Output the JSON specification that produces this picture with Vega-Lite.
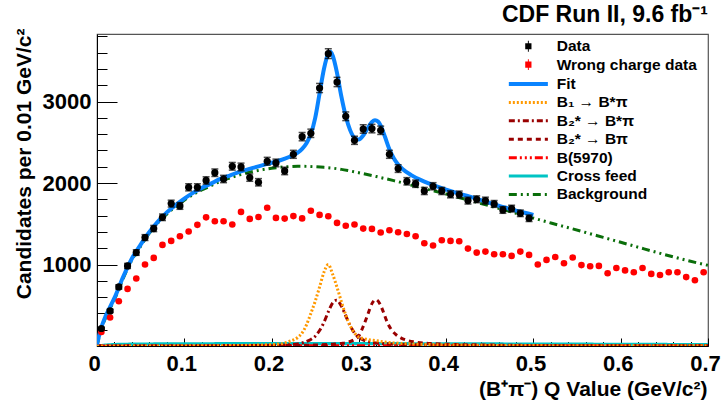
{
  "$schema": "https://vega.github.io/schema/vega-lite/v6.json",
  "width": 611,
  "height": 312,
  "autosize": {"type": "none"},
  "padding": {"left": 97, "top": 34, "right": 13, "bottom": 55},
  "background": "white",
  "config": {"view": {"stroke": "#555", "strokeWidth": 1.2}, "font": "Liberation Sans"},
  "title": {"text": "CDF Run II, 9.6 fb⁻¹", "anchor": "end", "frame": "group", "fontSize": 23, "font": "Liberation Sans", "fontWeight": "bold", "color": "black", "baseline": "alphabetic", "offset": -17},
  "datasets": {
    "pts": [
      {"s":"Data","q":0.005,"y":215,"e":15},{"s":"Data","q":0.015,"y":431,"e":21},{"s":"Data","q":0.025,"y":725,"e":27},{"s":"Data","q":0.035,"y":983,"e":31},{"s":"Data","q":0.045,"y":1147,"e":34},
      {"s":"Data","q":0.055,"y":1331,"e":36},{"s":"Data","q":0.065,"y":1442,"e":38},{"s":"Data","q":0.075,"y":1580,"e":40},{"s":"Data","q":0.085,"y":1748,"e":42},{"s":"Data","q":0.095,"y":1719,"e":41},
      {"s":"Data","q":0.105,"y":1948,"e":44},{"s":"Data","q":0.115,"y":1948,"e":44},{"s":"Data","q":0.125,"y":2032,"e":45},{"s":"Data","q":0.135,"y":2127,"e":46},{"s":"Data","q":0.145,"y":2050,"e":45},
      {"s":"Data","q":0.155,"y":2206,"e":47},{"s":"Data","q":0.165,"y":2198,"e":47},{"s":"Data","q":0.175,"y":2067,"e":45},{"s":"Data","q":0.185,"y":2010,"e":45},{"s":"Data","q":0.195,"y":2268,"e":48},
      {"s":"Data","q":0.205,"y":2247,"e":47},{"s":"Data","q":0.215,"y":2149,"e":46},{"s":"Data","q":0.225,"y":2353,"e":49},{"s":"Data","q":0.235,"y":2570,"e":51},{"s":"Data","q":0.245,"y":2611,"e":51},
      {"s":"Data","q":0.255,"y":3167,"e":56},{"s":"Data","q":0.265,"y":3589,"e":60},{"s":"Data","q":0.275,"y":3241,"e":57},{"s":"Data","q":0.285,"y":2820,"e":53},{"s":"Data","q":0.295,"y":2525,"e":50},
      {"s":"Data","q":0.305,"y":2664,"e":52},{"s":"Data","q":0.315,"y":2669,"e":52},{"s":"Data","q":0.325,"y":2648,"e":51},{"s":"Data","q":0.335,"y":2353,"e":49},{"s":"Data","q":0.345,"y":2178,"e":47},
      {"s":"Data","q":0.355,"y":2022,"e":45},{"s":"Data","q":0.365,"y":1992,"e":45},{"s":"Data","q":0.375,"y":1903,"e":44},{"s":"Data","q":0.385,"y":1961,"e":44},{"s":"Data","q":0.395,"y":1903,"e":44},
      {"s":"Data","q":0.405,"y":1862,"e":43},{"s":"Data","q":0.415,"y":1859,"e":43},{"s":"Data","q":0.425,"y":1785,"e":42},{"s":"Data","q":0.435,"y":1801,"e":42},{"s":"Data","q":0.445,"y":1785,"e":42},
      {"s":"Data","q":0.455,"y":1744,"e":42},{"s":"Data","q":0.465,"y":1670,"e":41},{"s":"Data","q":0.475,"y":1687,"e":41},{"s":"Data","q":0.485,"y":1629,"e":40},{"s":"Data","q":0.495,"y":1568,"e":40},
      {"s":"Wrong charge data","q":0.005,"y":173},{"s":"Wrong charge data","q":0.015,"y":350},{"s":"Wrong charge data","q":0.025,"y":550},{"s":"Wrong charge data","q":0.035,"y":701},{"s":"Wrong charge data","q":0.045,"y":828},
      {"s":"Wrong charge data","q":0.055,"y":1000},{"s":"Wrong charge data","q":0.065,"y":1081},{"s":"Wrong charge data","q":0.075,"y":1241},{"s":"Wrong charge data","q":0.085,"y":1290},{"s":"Wrong charge data","q":0.095,"y":1347},
      {"s":"Wrong charge data","q":0.105,"y":1405},{"s":"Wrong charge data","q":0.115,"y":1487},{"s":"Wrong charge data","q":0.125,"y":1579},{"s":"Wrong charge data","q":0.135,"y":1531},{"s":"Wrong charge data","q":0.145,"y":1531},
      {"s":"Wrong charge data","q":0.155,"y":1491},{"s":"Wrong charge data","q":0.165,"y":1646},{"s":"Wrong charge data","q":0.175,"y":1560},{"s":"Wrong charge data","q":0.185,"y":1584},{"s":"Wrong charge data","q":0.195,"y":1697},
      {"s":"Wrong charge data","q":0.205,"y":1572},{"s":"Wrong charge data","q":0.215,"y":1564},{"s":"Wrong charge data","q":0.225,"y":1595},{"s":"Wrong charge data","q":0.235,"y":1566},{"s":"Wrong charge data","q":0.245,"y":1660},
      {"s":"Wrong charge data","q":0.255,"y":1609},{"s":"Wrong charge data","q":0.265,"y":1593},{"s":"Wrong charge data","q":0.275,"y":1511},{"s":"Wrong charge data","q":0.285,"y":1476},{"s":"Wrong charge data","q":0.295,"y":1492},
      {"s":"Wrong charge data","q":0.305,"y":1441},{"s":"Wrong charge data","q":0.315,"y":1437},{"s":"Wrong charge data","q":0.325,"y":1393},{"s":"Wrong charge data","q":0.335,"y":1421},{"s":"Wrong charge data","q":0.345,"y":1396},
      {"s":"Wrong charge data","q":0.355,"y":1375},{"s":"Wrong charge data","q":0.365,"y":1347},{"s":"Wrong charge data","q":0.375,"y":1261},{"s":"Wrong charge data","q":0.385,"y":1233},{"s":"Wrong charge data","q":0.395,"y":1298},
      {"s":"Wrong charge data","q":0.405,"y":1290},{"s":"Wrong charge data","q":0.415,"y":1286},{"s":"Wrong charge data","q":0.425,"y":1196},{"s":"Wrong charge data","q":0.435,"y":1147},{"s":"Wrong charge data","q":0.445,"y":1159},
      {"s":"Wrong charge data","q":0.455,"y":1126},{"s":"Wrong charge data","q":0.465,"y":1126},{"s":"Wrong charge data","q":0.475,"y":1106},{"s":"Wrong charge data","q":0.485,"y":1159},{"s":"Wrong charge data","q":0.495,"y":1118},
      {"s":"Wrong charge data","q":0.505,"y":1000},{"s":"Wrong charge data","q":0.515,"y":1057},{"s":"Wrong charge data","q":0.525,"y":1092},{"s":"Wrong charge data","q":0.535,"y":1016},{"s":"Wrong charge data","q":0.545,"y":1086},
      {"s":"Wrong charge data","q":0.555,"y":993},{"s":"Wrong charge data","q":0.565,"y":979},{"s":"Wrong charge data","q":0.575,"y":983},{"s":"Wrong charge data","q":0.585,"y":893},{"s":"Wrong charge data","q":0.595,"y":957},
      {"s":"Wrong charge data","q":0.605,"y":928},{"s":"Wrong charge data","q":0.615,"y":905},{"s":"Wrong charge data","q":0.625,"y":957},{"s":"Wrong charge data","q":0.635,"y":885},{"s":"Wrong charge data","q":0.645,"y":872},
      {"s":"Wrong charge data","q":0.655,"y":905},{"s":"Wrong charge data","q":0.665,"y":905},{"s":"Wrong charge data","q":0.675,"y":846},{"s":"Wrong charge data","q":0.685,"y":807},{"s":"Wrong charge data","q":0.695,"y":905}
    ],
    "curves": [
      {"s":"Background","q":0,"v":0},{"s":"Background","q":0.005,"v":210},{"s":"Background","q":0.01,"v":350},{"s":"Background","q":0.015,"v":460},{"s":"Background","q":0.02,"v":570},{"s":"Background","q":0.03,"v":830},{"s":"Background","q":0.04,"v":1055},{"s":"Background","q":0.05,"v":1225},{"s":"Background","q":0.06,"v":1385},{"s":"Background","q":0.07,"v":1515},{"s":"Background","q":0.08,"v":1620},{"s":"Background","q":0.09,"v":1710},{"s":"Background","q":0.1,"v":1790},{"s":"Background","q":0.11,"v":1860},{"s":"Background","q":0.12,"v":1915},{"s":"Background","q":0.13,"v":1965},{"s":"Background","q":0.14,"v":2015},{"s":"Background","q":0.15,"v":2055},{"s":"Background","q":0.16,"v":2090},{"s":"Background","q":0.17,"v":2120},{"s":"Background","q":0.18,"v":2145},{"s":"Background","q":0.19,"v":2165},{"s":"Background","q":0.2,"v":2182},{"s":"Background","q":0.21,"v":2194},{"s":"Background","q":0.22,"v":2202},{"s":"Background","q":0.23,"v":2206},{"s":"Background","q":0.24,"v":2205},{"s":"Background","q":0.25,"v":2200},{"s":"Background","q":0.26,"v":2193},{"s":"Background","q":0.27,"v":2183},{"s":"Background","q":0.28,"v":2168},{"s":"Background","q":0.29,"v":2148},{"s":"Background","q":0.3,"v":2127},{"s":"Background","q":0.32,"v":2080},{"s":"Background","q":0.34,"v":2030},{"s":"Background","q":0.36,"v":1975},{"s":"Background","q":0.38,"v":1920},{"s":"Background","q":0.4,"v":1865},{"s":"Background","q":0.42,"v":1808},{"s":"Background","q":0.44,"v":1750},{"s":"Background","q":0.46,"v":1690},{"s":"Background","q":0.48,"v":1630},{"s":"Background","q":0.5,"v":1570},{"s":"Background","q":0.52,"v":1510},{"s":"Background","q":0.54,"v":1452},{"s":"Background","q":0.56,"v":1393},{"s":"Background","q":0.58,"v":1333},{"s":"Background","q":0.6,"v":1273},{"s":"Background","q":0.62,"v":1213},{"s":"Background","q":0.64,"v":1153},{"s":"Background","q":0.66,"v":1095},{"s":"Background","q":0.68,"v":1040},{"s":"Background","q":0.7,"v":990},
      {"s":"Cross feed","q":0,"v":0},{"s":"Cross feed","q":0.01,"v":12},{"s":"Cross feed","q":0.03,"v":22},{"s":"Cross feed","q":0.1,"v":28},{"s":"Cross feed","q":0.2,"v":30},{"s":"Cross feed","q":0.3,"v":30},{"s":"Cross feed","q":0.4,"v":28},{"s":"Cross feed","q":0.5,"v":25},{"s":"Cross feed","q":0.6,"v":22},{"s":"Cross feed","q":0.7,"v":18},
      {"s":"B(5970)","q":0,"v":0},{"s":"B(5970)","q":0.1,"v":1},{"s":"B(5970)","q":0.3,"v":2},{"s":"B(5970)","q":0.5,"v":3},{"s":"B(5970)","q":0.7,"v":3},
      {"s":"B₂* → Bπ","q":0,"v":0},{"s":"B₂* → Bπ","q":0.1,"v":1},{"s":"B₂* → Bπ","q":0.2,"v":4},{"s":"B₂* → Bπ","q":0.25,"v":12},{"s":"B₂* → Bπ","q":0.27,"v":22},{"s":"B₂* → Bπ","q":0.28,"v":32},{"s":"B₂* → Bπ","q":0.29,"v":55},{"s":"B₂* → Bπ","q":0.295,"v":80},{"s":"B₂* → Bπ","q":0.3,"v":125},{"s":"B₂* → Bπ","q":0.305,"v":240},{"s":"B₂* → Bπ","q":0.31,"v":380},{"s":"B₂* → Bπ","q":0.315,"v":520},{"s":"B₂* → Bπ","q":0.3195,"v":570},{"s":"B₂* → Bπ","q":0.324,"v":520},{"s":"B₂* → Bπ","q":0.328,"v":420},{"s":"B₂* → Bπ","q":0.333,"v":280},{"s":"B₂* → Bπ","q":0.338,"v":190},{"s":"B₂* → Bπ","q":0.343,"v":135},{"s":"B₂* → Bπ","q":0.348,"v":100},{"s":"B₂* → Bπ","q":0.355,"v":70},{"s":"B₂* → Bπ","q":0.365,"v":48},{"s":"B₂* → Bπ","q":0.38,"v":32},{"s":"B₂* → Bπ","q":0.4,"v":22},{"s":"B₂* → Bπ","q":0.45,"v":12},{"s":"B₂* → Bπ","q":0.5,"v":7},{"s":"B₂* → Bπ","q":0.6,"v":4},{"s":"B₂* → Bπ","q":0.7,"v":3},
      {"s":"B₂* → B*π","q":0,"v":0},{"s":"B₂* → B*π","q":0.1,"v":1},{"s":"B₂* → B*π","q":0.15,"v":3},{"s":"B₂* → B*π","q":0.2,"v":8},{"s":"B₂* → B*π","q":0.22,"v":15},{"s":"B₂* → B*π","q":0.23,"v":25},{"s":"B₂* → B*π","q":0.24,"v":55},{"s":"B₂* → B*π","q":0.245,"v":80},{"s":"B₂* → B*π","q":0.25,"v":120},{"s":"B₂* → B*π","q":0.255,"v":190},{"s":"B₂* → B*π","q":0.26,"v":290},{"s":"B₂* → B*π","q":0.265,"v":420},{"s":"B₂* → B*π","q":0.27,"v":530},{"s":"B₂* → B*π","q":0.2745,"v":562},{"s":"B₂* → B*π","q":0.28,"v":490},{"s":"B₂* → B*π","q":0.285,"v":370},{"s":"B₂* → B*π","q":0.29,"v":250},{"s":"B₂* → B*π","q":0.295,"v":160},{"s":"B₂* → B*π","q":0.3,"v":105},{"s":"B₂* → B*π","q":0.305,"v":75},{"s":"B₂* → B*π","q":0.31,"v":55},{"s":"B₂* → B*π","q":0.32,"v":38},{"s":"B₂* → B*π","q":0.33,"v":28},{"s":"B₂* → B*π","q":0.35,"v":18},{"s":"B₂* → B*π","q":0.4,"v":9},{"s":"B₂* → B*π","q":0.5,"v":4},{"s":"B₂* → B*π","q":0.6,"v":3},{"s":"B₂* → B*π","q":0.7,"v":2},
      {"s":"B₁ → B*π","q":0,"v":0},{"s":"B₁ → B*π","q":0.1,"v":2},{"s":"B₁ → B*π","q":0.15,"v":5},{"s":"B₁ → B*π","q":0.18,"v":10},{"s":"B₁ → B*π","q":0.2,"v":18},{"s":"B₁ → B*π","q":0.21,"v":25},{"s":"B₁ → B*π","q":0.22,"v":55},{"s":"B₁ → B*π","q":0.225,"v":75},{"s":"B₁ → B*π","q":0.23,"v":105},{"s":"B₁ → B*π","q":0.235,"v":160},{"s":"B₁ → B*π","q":0.24,"v":260},{"s":"B₁ → B*π","q":0.245,"v":400},{"s":"B₁ → B*π","q":0.25,"v":550},{"s":"B₁ → B*π","q":0.255,"v":725},{"s":"B₁ → B*π","q":0.26,"v":905},{"s":"B₁ → B*π","q":0.265,"v":1000},{"s":"B₁ → B*π","q":0.27,"v":880},{"s":"B₁ → B*π","q":0.275,"v":720},{"s":"B₁ → B*π","q":0.28,"v":545},{"s":"B₁ → B*π","q":0.285,"v":380},{"s":"B₁ → B*π","q":0.29,"v":250},{"s":"B₁ → B*π","q":0.295,"v":160},{"s":"B₁ → B*π","q":0.3,"v":110},{"s":"B₁ → B*π","q":0.31,"v":80},{"s":"B₁ → B*π","q":0.32,"v":65},{"s":"B₁ → B*π","q":0.33,"v":48},{"s":"B₁ → B*π","q":0.34,"v":38},{"s":"B₁ → B*π","q":0.36,"v":25},{"s":"B₁ → B*π","q":0.4,"v":14},{"s":"B₁ → B*π","q":0.45,"v":8},{"s":"B₁ → B*π","q":0.5,"v":5},{"s":"B₁ → B*π","q":0.6,"v":3},{"s":"B₁ → B*π","q":0.7,"v":2},
      {"s":"Fit","q":0,"v":20},{"s":"Fit","q":0.005,"v":230},{"s":"Fit","q":0.01,"v":370},{"s":"Fit","q":0.015,"v":480},{"s":"Fit","q":0.02,"v":590},{"s":"Fit","q":0.03,"v":850},{"s":"Fit","q":0.04,"v":1075},{"s":"Fit","q":0.05,"v":1245},{"s":"Fit","q":0.06,"v":1400},{"s":"Fit","q":0.07,"v":1530},{"s":"Fit","q":0.08,"v":1640},{"s":"Fit","q":0.09,"v":1730},{"s":"Fit","q":0.1,"v":1810},{"s":"Fit","q":0.11,"v":1880},{"s":"Fit","q":0.12,"v":1940},{"s":"Fit","q":0.13,"v":1990},{"s":"Fit","q":0.14,"v":2045},{"s":"Fit","q":0.15,"v":2085},{"s":"Fit","q":0.16,"v":2125},{"s":"Fit","q":0.17,"v":2160},{"s":"Fit","q":0.18,"v":2190},{"s":"Fit","q":0.19,"v":2220},{"s":"Fit","q":0.2,"v":2250},{"s":"Fit","q":0.21,"v":2280},{"s":"Fit","q":0.22,"v":2320},{"s":"Fit","q":0.225,"v":2345},{"s":"Fit","q":0.23,"v":2375},{"s":"Fit","q":0.235,"v":2420},{"s":"Fit","q":0.24,"v":2490},{"s":"Fit","q":0.245,"v":2600},{"s":"Fit","q":0.25,"v":2800},{"s":"Fit","q":0.255,"v":3100},{"s":"Fit","q":0.26,"v":3400},{"s":"Fit","q":0.265,"v":3590},{"s":"Fit","q":0.2675,"v":3612},{"s":"Fit","q":0.27,"v":3565},{"s":"Fit","q":0.275,"v":3350},{"s":"Fit","q":0.28,"v":3060},{"s":"Fit","q":0.285,"v":2820},{"s":"Fit","q":0.29,"v":2650},{"s":"Fit","q":0.295,"v":2555},{"s":"Fit","q":0.3,"v":2535},{"s":"Fit","q":0.305,"v":2585},{"s":"Fit","q":0.31,"v":2670},{"s":"Fit","q":0.315,"v":2750},{"s":"Fit","q":0.3185,"v":2772},{"s":"Fit","q":0.322,"v":2755},{"s":"Fit","q":0.325,"v":2705},{"s":"Fit","q":0.33,"v":2565},{"s":"Fit","q":0.335,"v":2415},{"s":"Fit","q":0.34,"v":2305},{"s":"Fit","q":0.345,"v":2228},{"s":"Fit","q":0.35,"v":2172},{"s":"Fit","q":0.36,"v":2098},{"s":"Fit","q":0.37,"v":2042},{"s":"Fit","q":0.38,"v":1996},{"s":"Fit","q":0.39,"v":1956},{"s":"Fit","q":0.4,"v":1920},{"s":"Fit","q":0.41,"v":1886},{"s":"Fit","q":0.42,"v":1855},{"s":"Fit","q":0.43,"v":1824},{"s":"Fit","q":0.44,"v":1791},{"s":"Fit","q":0.45,"v":1757},{"s":"Fit","q":0.46,"v":1723},{"s":"Fit","q":0.47,"v":1692},{"s":"Fit","q":0.48,"v":1662},{"s":"Fit","q":0.49,"v":1636},{"s":"Fit","q":0.5,"v":1610}
    ]
  },
  "resolve": {"axis": {"x": "independent", "y": "independent"}},
  "layer": [
    {
      "data": {"name": "curves"},
      "transform": [{"filter": "datum.s != 'Fit'"}],
      "mark": {"type": "line", "strokeWidth": 3, "interpolate": "monotone", "clip": true},
      "encoding": {
        "x": {"field": "q", "type": "quantitative",
              "scale": {"domain": [0, 0.7], "nice": false, "zero": false},
              "axis": {"orient": "bottom", "title": "(B⁺π⁻) Q Value (GeV/c²)", "values": [0, 0.1, 0.2, 0.3, 0.4, 0.5, 0.6, 0.7],
                       "labelExpr": "datum.value == 0 ? '0' : format(datum.value, '.1f')",
                       "grid": false, "tickSize": -8, "tickColor": "black", "tickWidth": 1, "domainColor": "black", "domainWidth": 1,
                       "labelPadding": 15, "labelFont": "Liberation Sans", "labelFontSize": 22, "labelFontWeight": "bold", "labelColor": "black",
                       "labelFlush": false, "labelOverlap": false, "labelOffset": -3,
                       "titleFont": "Liberation Sans", "titleFontSize": 21, "titleFontWeight": "bold", "titleColor": "black", "titleAnchor": "end", "titleAlign": "right", "titleX": 610, "titlePadding": 4}},
        "y": {"field": "v", "type": "quantitative",
              "scale": {"domain": [0, 3830], "nice": false},
              "axis": {"orient": "left", "title": "Candidates per 0.01 GeV/c²", "values": [1000, 2000, 3000], "format": "d",
                       "grid": false, "tickSize": -20, "tickColor": "black", "tickWidth": 1, "domainColor": "black", "domainWidth": 1,
                       "labelPadding": 26, "labelFont": "Liberation Sans", "labelFontSize": 22, "labelFontWeight": "bold", "labelColor": "black",
                       "labelOverlap": false, "labelFlush": false,
                       "titleFont": "Liberation Sans", "titleFontSize": 21, "titleFontWeight": "bold", "titleColor": "black", "titleAnchor": "end", "titleAlign": "right", "titleY": -6, "titlePadding": 8}},
        "color": {"field": "s", "type": "nominal",
                  "scale": {"domain": ["Data", "Wrong charge data", "Fit", "B₁ → B*π", "B₂* → B*π", "B₂* → Bπ", "B(5970)", "Cross feed", "Background"],
                            "range": ["#000000", "#ff0000", "#0a84ff", "#ff9900", "#990000", "#990000", "#ff0000", "#00c4c4", "#0a6e0a"]},
                  "legend": {"orient": "none", "legendX": 423.6, "legendY": 4.5, "title": null, "padding": 0,
                             "labelFont": "Liberation Sans", "labelFontSize": 15.5, "labelFontWeight": "bold", "labelColor": "black", "labelLimit": 300,
                             "symbolSize": 61, "labelOffset": 20.6, "rowPadding": 1.4,
                             "encode": {"symbols": {"update": {
                               "shape": {"signal": "(datum.value == 'Data' || datum.value == 'Wrong charge data') ? 'M-0.8,-0.8H0.8V0.8H-0.8Z M-0.12,-1.4H0.12V1.4H-0.12Z' : 'M-5,0H5'"},
                               "fill": {"signal": "datum.value == 'Data' ? '#000000' : (datum.value == 'Wrong charge data' ? '#ff0000' : 'transparent')"},
                               "stroke": {"scale": "color", "field": "value"},
                               "strokeWidth": {"signal": "datum.value == 'Fit' ? 4 : ((datum.value == 'Data' || datum.value == 'Wrong charge data') ? 0 : 3)"},
                               "strokeDash": {"scale": "strokeDash", "field": "value"},
                               "opacity": {"value": 1},
                               "size": {"value": 61}
                             }}}}},
        "strokeDash": {"field": "s", "type": "nominal", "legend": null,
                       "scale": {"domain": ["Data", "Wrong charge data", "Fit", "B₁ → B*π", "B₂* → B*π", "B₂* → Bπ", "B(5970)", "Cross feed", "Background"],
                                 "range": [[1, 0], [1, 0], [1, 0], [2, 2], [6, 3, 2, 3], [5, 4], [8, 3, 2, 3, 2, 3, 2, 3], [1, 0], [8, 4, 2, 4, 2, 4]]}}
      }
    },
    {
      "data": {"name": "curves"},
      "transform": [{"filter": "datum.s == 'Fit'"}],
      "mark": {"type": "line", "strokeWidth": 4, "interpolate": "monotone", "clip": true},
      "encoding": {
        "x": {"field": "q", "type": "quantitative", "axis": null},
        "y": {"field": "v", "type": "quantitative", "axis": null},
        "color": {"field": "s", "type": "nominal"}
      }
    },
    {
      "data": {"name": "pts"},
      "transform": [{"filter": "datum.s == 'Wrong charge data'"}],
      "mark": {"type": "circle", "size": 44, "opacity": 1, "clip": true},
      "encoding": {
        "x": {"field": "q", "type": "quantitative",
              "axis": {"orient": "bottom", "title": null, "labels": false, "domain": false, "grid": false, "tickSize": -4.5, "tickColor": "black",
                       "values": [0.02, 0.04, 0.06, 0.08, 0.12, 0.14, 0.16, 0.18, 0.22, 0.24, 0.26, 0.28, 0.32, 0.34, 0.36, 0.38, 0.42, 0.44, 0.46, 0.48, 0.52, 0.54, 0.56, 0.58, 0.62, 0.64, 0.66, 0.68]}},
        "y": {"field": "y", "type": "quantitative",
              "axis": {"orient": "left", "title": null, "labels": false, "domain": false, "grid": false, "tickSize": -10, "tickColor": "black",
                       "values": [200, 400, 600, 800, 1200, 1400, 1600, 1800, 2200, 2400, 2600, 2800, 3200, 3400, 3600, 3800]}},
        "color": {"field": "s", "type": "nominal"}
      }
    },
    {
      "data": {"name": "pts"},
      "transform": [{"filter": "datum.s == 'Data'"}],
      "mark": {"type": "errorbar", "color": "#000000", "thickness": 1.5, "ticks": {"size": 7, "thickness": 1.5, "color": "#000000"}},
      "encoding": {
        "x": {"field": "q", "type": "quantitative", "axis": null},
        "y": {"field": "y", "type": "quantitative", "axis": null},
        "yError": {"field": "e"}
      }
    },
    {
      "data": {"name": "pts"},
      "transform": [{"filter": "datum.s == 'Data'"}],
      "mark": {"type": "circle", "size": 52, "opacity": 1, "clip": true},
      "encoding": {
        "x": {"field": "q", "type": "quantitative", "axis": null},
        "y": {"field": "y", "type": "quantitative", "axis": null},
        "color": {"field": "s", "type": "nominal"}
      }
    }
  ]
}
